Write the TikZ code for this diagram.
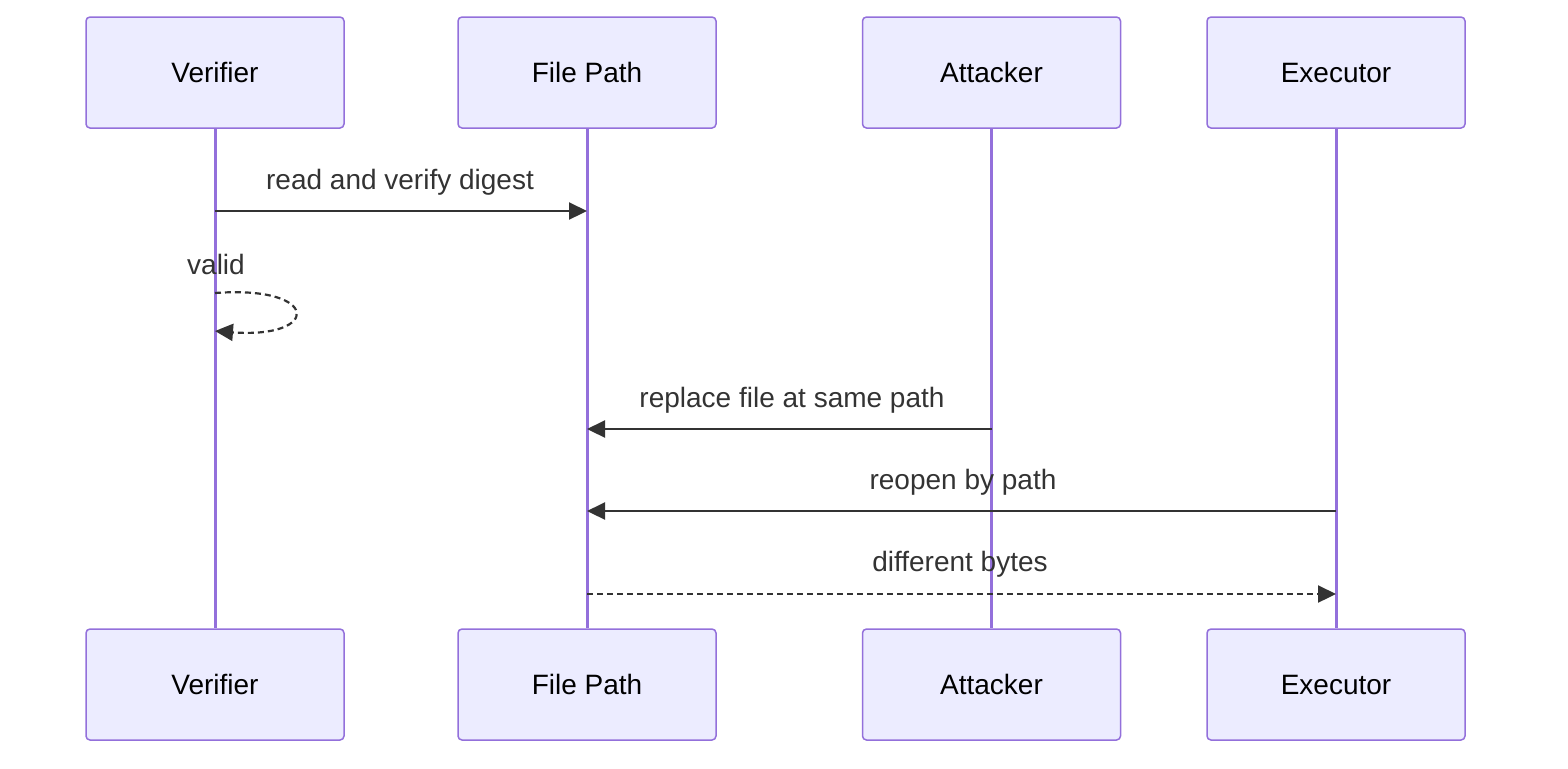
\documentclass[tikz,border=0pt]{standalone}
\usepackage{fontspec}
\setmainfont{Liberation Sans}
\usepackage{xcolor}
\usetikzlibrary{arrows.meta, positioning}

\definecolor{actorfill}{HTML}{ECECFF}
\definecolor{actorline}{HTML}{9370DB}
\definecolor{msgcol}{HTML}{333333}

\tikzset{
  actor/.style={draw=actorline, fill=actorfill, line width=0.75pt, rounded corners=2pt,
    minimum width=129pt, minimum height=55.5pt, inner sep=0pt, font=\fontsize{14}{16}\selectfont},
  lifeline/.style={draw=actorline, line width=1.5pt},
  msg/.style={draw=msgcol, line width=1.1pt, -{Triangle[length=9pt,width=8.5pt]}},
  reply/.style={msg, dash pattern=on 3pt off 2pt},
  msglabel/.style={text=msgcol, font=\fontsize{14}{16}\selectfont, inner sep=0pt}
}

\begin{document}
\begin{tikzpicture}[x=0.5pt, y=-0.5pt]
\useasboundingbox (0,0) rectangle (1568,768);

% Actors (top)
\node[actor] (verTop)  at (215,72.5)    {Verifier};
\node[actor] (pathTop) at (587,72.5)    {File Path};
\node[actor] (attTop)  at (991.5,72.5)  {Attacker};
\node[actor] (exeTop)  at (1336,72.5)   {Executor};

% Actors (bottom)
\node[actor] (verBot)  at (215,684.5)   {Verifier};
\node[actor] (pathBot) at (587,684.5)   {File Path};
\node[actor] (attBot)  at (991.5,684.5) {Attacker};
\node[actor] (exeBot)  at (1336,684.5)  {Executor};

% Lifelines
\draw[lifeline] (verTop) -- (verBot);
\draw[lifeline] (pathTop) -- (pathBot);
\draw[lifeline] (attTop) -- (attBot);
\draw[lifeline] (exeTop) -- (exeBot);

% Points on the lifelines
\coordinate (readV) at (215,211);
\coordinate (readP) at (587,211);
\coordinate (validA) at (215,293);
\coordinate (validB) at (215,331);
\coordinate (replA) at (991.5,429);
\coordinate (replP) at (587,429);
\coordinate (reopE) at (1336,511);
\coordinate (reopP) at (587,511);
\coordinate (diffP) at (587,594);
\coordinate (diffE) at (1336,594);

% Messages
\draw[msg] (readV) -- (readP);
\node[msglabel] (readLbl) at (400,182) {read and verify digest};

\draw[reply] (validA) .. controls (321,285) and (321,339) .. (validB);
\node[msglabel] (validLbl) at (216,264) {valid};

\draw[msg] (replA) -- (replP);
\node[msglabel] (replLbl) at (792,400) {replace file at same path};

\draw[msg] (reopE) -- (reopP);
\node[msglabel] (reopLbl) at (963,482) {reopen by path};

\draw[reply] (diffP) -- (diffE);
\node[msglabel] (diffLbl) at (960,564) {different bytes};
\end{tikzpicture}
\end{document}
